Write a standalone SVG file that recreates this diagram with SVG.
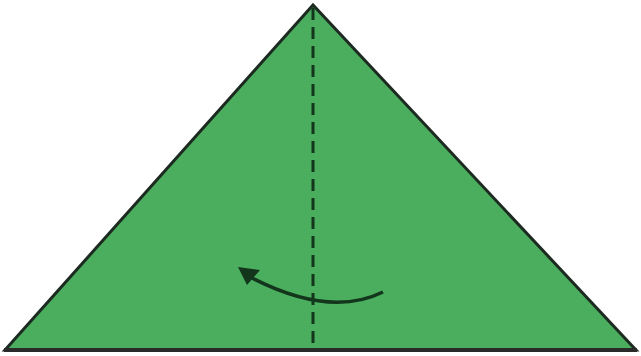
<svg xmlns="http://www.w3.org/2000/svg" width="641" height="356" viewBox="0 0 641 356">
<style>
.ink{stroke:#12351c;fill:none}
</style>
<rect width="641" height="356" fill="#ffffff"/>
<polygon points="313,5 5,350 636,350" fill="#4aae5e" stroke="#1c2a20" stroke-width="3" stroke-linejoin="miter"/>
<line x1="4" y1="350" x2="637" y2="350" stroke="#2a2a2a" stroke-width="4"/>
<line class="ink" x1="313" y1="8" x2="313" y2="348" stroke-width="3" stroke-dasharray="12 7"/>
<path class="ink" d="M383,292 Q330,318 252,278" stroke-width="3.5"/>
<polygon points="238,267 260,270 247,285" fill="#12351c"/>
</svg>
